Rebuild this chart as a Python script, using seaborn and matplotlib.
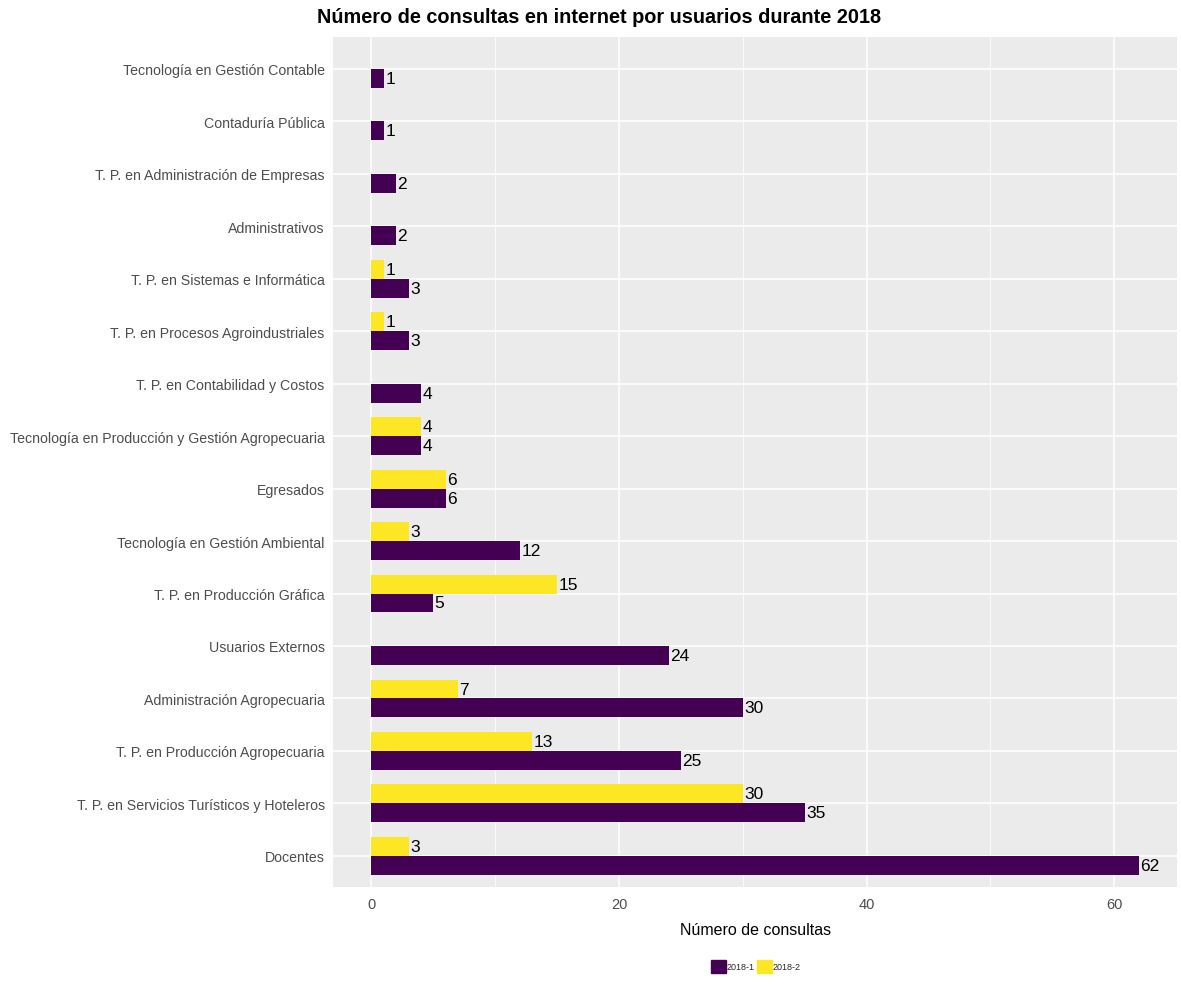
import matplotlib
matplotlib.use("Agg")
import matplotlib.pyplot as plt
import matplotlib.patches as mpatches
import seaborn as sns
import pandas as pd
import numpy as np

categories = [
    "Tecnología en Gestión Contable",
    "Contaduría Pública",
    "T. P. en Administración de Empresas",
    "Administrativos",
    "T. P. en Sistemas e Informática",
    "T. P. en Procesos Agroindustriales",
    "T. P. en Contabilidad y Costos",
    "Tecnología en Producción y Gestión Agropecuaria",
    "Egresados",
    "Tecnología en Gestión Ambiental",
    "T. P. en Producción Gráfica",
    "Usuarios Externos",
    "Administración Agropecuaria",
    "T. P. en Producción Agropecuaria",
    "T. P. en Servicios Turísticos y Hoteleros",
    "Docentes",
]
values_2018_1 = [1, 1, 2, 2, 3, 3, 4, 4, 6, 12, 5, 24, 30, 25, 35, 62]
values_2018_2 = [None, None, None, None, 1, 1, None, 4, 6, 3, 15, None, 7, 13, 30, 3]
periods = ["2018-1", "2018-2"]
colors = {"2018-1": "#440154", "2018-2": "#FDE725"}
x_ticks = [0, 20, 40, 60]

rows = []
for c, v1, v2 in zip(categories, values_2018_1, values_2018_2):
    if v1 is not None:
        rows.append((c, "2018-1", v1))
    if v2 is not None:
        rows.append((c, "2018-2", v2))
df = pd.DataFrame(rows, columns=["categoria", "periodo", "consultas"])

sns.set_theme(style="darkgrid")
plt.rcParams["font.family"] = ["Liberation Sans", "DejaVu Sans"]

fig = plt.figure(figsize=(11.81, 9.87), dpi=100)
ax = fig.add_axes([0.282, 0.10, 0.715, 0.861])
ax.set_facecolor("#EBEBEB")

sns.barplot(data=df, y="categoria", x="consultas", hue="periodo",
            order=categories, hue_order=["2018-2", "2018-1"],
            palette=colors, width=0.72, orient="h", ax=ax,
            legend=False, saturation=1, errorbar=None, linewidth=0,
            edgecolor="none")

for cont in ax.containers:
    ax.bar_label(cont, fmt="%g", padding=1, fontsize=12.5, color="black")

ax.set_xlim(-3.1, 65.1)
ax.set_ylim(len(categories) - 0.4, -0.6)
ax.set_xticks(x_ticks)
ax.set_xticks([10, 30, 50], minor=True)
ax.grid(True, which="major", color="white", linewidth=1.1)
ax.grid(True, which="minor", axis="x", color="white", linewidth=0.55)
ax.set_axisbelow(True)
for s in ax.spines.values():
    s.set_visible(False)

ax.tick_params(axis="y", which="major", length=4, width=0.8, color="#333333",
               labelcolor="#4D4D4D", labelsize=10.2, pad=2)
ax.tick_params(axis="x", which="major", length=4, width=0.8, color="#333333",
               labelcolor="#4D4D4D", labelsize=10.5, pad=3)
ax.tick_params(axis="both", which="minor", length=0)
ax.set_ylabel("")
ax.set_xlabel("Número de consultas", fontsize=11.5, color="black", labelpad=8)

fig.text(0.507, 0.982, "Número de consultas en internet por usuarios durante 2018",
         ha="center", va="center", fontsize=14.3, fontweight="bold", color="black")

handles = [mpatches.Patch(color=colors[p], label=p) for p in periods]
fig.legend(handles=handles, loc="center", bbox_to_anchor=(0.64, 0.02), ncol=2,
           frameon=False, fontsize=6.5, handlelength=1.6, handleheight=1.8,
           handletextpad=0.1, columnspacing=0.3)

fig.savefig("out.png", dpi=100)
